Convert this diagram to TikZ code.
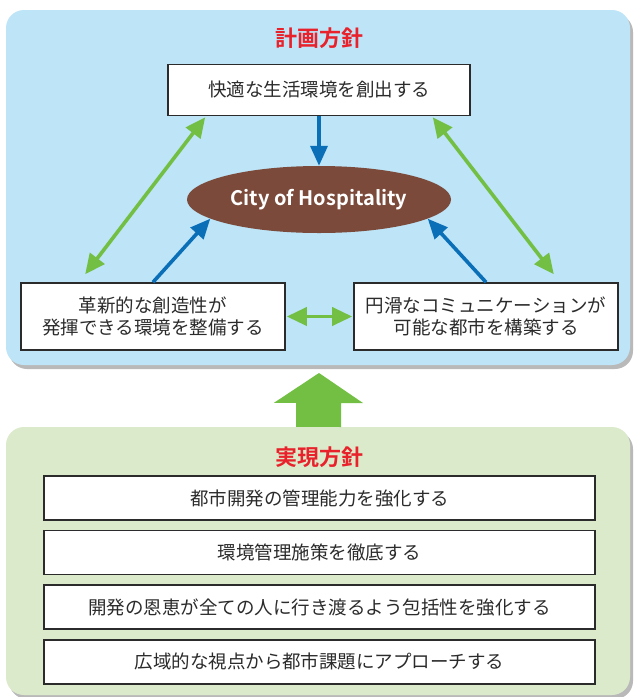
\documentclass[tikz,border=0pt]{standalone}
\usepackage{fontspec}
\setmainfont{Noto Sans CJK JP}[BoldFont={Noto Sans CJK JP Bold}]
\usetikzlibrary{shapes,arrows.meta,positioning,shadows}
\definecolor{skyblue}{HTML}{BDE4F7}
\definecolor{leafgreen}{HTML}{DAEACB}
\definecolor{arrowgreen}{HTML}{72BF44}
\definecolor{arrowblue}{HTML}{0B6FB8}
\definecolor{titlered}{HTML}{E8212B}
\definecolor{cocoa}{HTML}{7B4A3A}
\definecolor{inkgrey}{HTML}{2B2B2B}
\tikzstyle{panel} = [rectangle, rounded corners=18pt,
    drop shadow={shadow xshift=3pt, shadow yshift=-4pt, opacity=0.55}]
\tikzstyle{block} = [draw=inkgrey, line width=1.6pt, fill=white, rectangle,
    align=center, text=inkgrey, font=\fontsize{18.5}{22}\selectfont]
\tikzstyle{goal} = [ellipse, fill=cocoa, text=white, minimum width=264pt,
    minimum height=67pt, font=\bfseries\fontsize{20}{24}\selectfont]
\tikzstyle{heading} = [text=titlered, font=\bfseries\fontsize{22}{26}\selectfont]
\tikzstyle{oneway} = [-{Triangle[length=20pt,width=17pt]}, line width=3.6pt, arrowblue]
\tikzstyle{twoway} = [{Triangle[length=20pt,width=18pt]}-{Triangle[length=20pt,width=18pt]},
    line width=3.6pt, arrowgreen]

\begin{document}
\begin{tikzpicture}[x=1pt, y=-1pt]
          \useasboundingbox (0,0) rectangle (633,697);
          % Panels
          \node [panel, fill=skyblue, minimum width=624pt, minimum height=355pt] (plan) at (318,187.5) {};
          \node [panel, fill=leafgreen, minimum width=624pt, minimum height=268pt] (action) at (318,561) {};
          \node [heading] (plantitle) at (319,38) {計画方針};
          \node [heading] (actiontitle) at (319,457) {実現方針};

          % Place the blocks
          \node [block, minimum width=302pt, minimum height=51pt] (comfort) at (319,90) {快適な生活環境を創出する};
          \node [goal] (city) at (319,199.5) {City of Hospitality};
          \node [block, minimum width=264pt, minimum height=67pt] (innov) at (153,316.5) {革新的な創造性が\\発揮できる環境を整備する};
          \node [block, minimum width=264pt, minimum height=67pt] (commun) at (486,316.5) {円滑なコミュニケーションが\\可能な都市を構築する};

          \node [block, minimum width=551pt, minimum height=44pt] (mgmt) at (319.5,498) {都市開発の管理能力を強化する};
          \node [block, minimum width=551pt, minimum height=44pt, below=9pt of mgmt] (envir) {環境管理施策を徹底する};
          \node [block, minimum width=551pt, minimum height=44pt, below=9pt of envir] (incl) {開発の恩恵が全ての人に行き渡るよう包括性を強化する};
          \node [block, minimum width=551pt, minimum height=44pt, below=9pt of incl] (region) {広域的な視点から都市課題にアプローチする};

          % Connections
          \draw [oneway] (comfort) -- (city);
          \draw [oneway] (innov.north) -- (city.190);
          \draw [oneway] (commun.north) -- (city.-10);
          \draw [twoway] ([xshift=65pt,yshift=8pt]innov.north west) -- ([xshift=38pt,yshift=-1pt]comfort.south west);
          \draw [twoway] ([xshift=-38pt,yshift=-1pt]comfort.south east) -- ([xshift=-65pt,yshift=8pt]commun.north east);
          \draw [twoway, shorten <=1pt, shorten >=1pt] (innov.east) -- (commun.west);

          % Big arrow
          \fill [arrowgreen] (action.north) ++(-22,0) -- ++(0,-24) -- ++(-22,0) -- (319,373)
              -- (363,403) -- ++(-22,0) -- ++(0,24) -- cycle;
      \end{tikzpicture}
\end{document}
